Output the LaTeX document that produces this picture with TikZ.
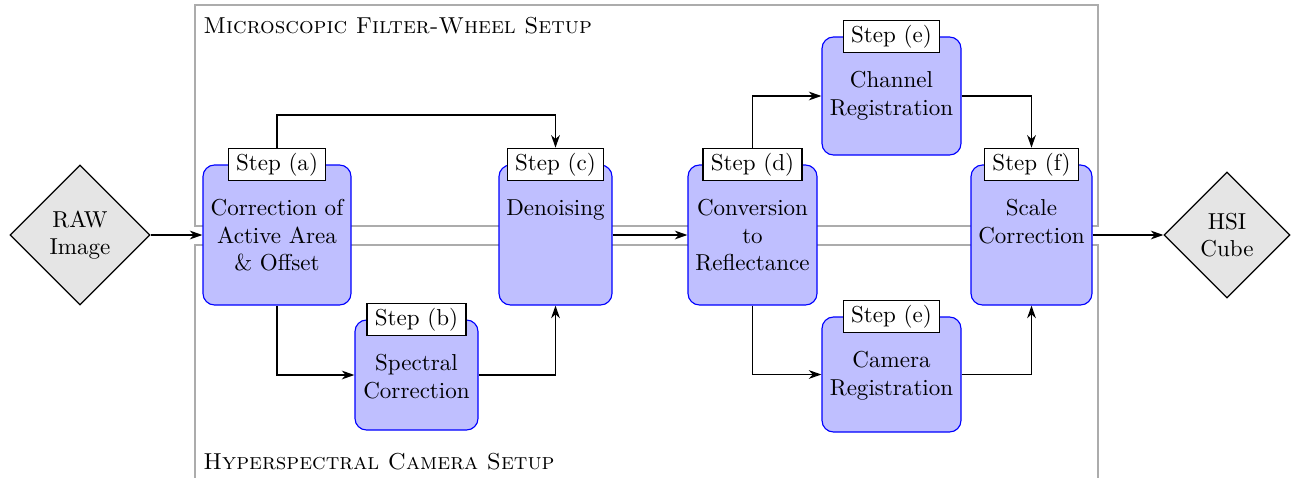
\documentclass[tikz,border=0pt]{standalone}
\usetikzlibrary{shapes.geometric,arrows.meta}
\begin{document}
\begin{tikzpicture}[x=0.434pt,y=-0.434pt,
  box/.style={draw=blue, fill=blue!25, rounded corners=5pt, inner sep=0pt, line width=0.5pt},
  dia/.style={diamond, draw=black, fill=gray!20, inner sep=0pt, align=center, aspect=1, line width=0.5pt},
  steplbl/.style={draw=black, fill=white, inner xsep=3.4pt, inner ysep=2pt, line width=0.5pt},
  txt/.style={anchor=north, align=center, inner sep=0pt},
  arr/.style={-{Stealth[length=5.5pt,width=3.8pt]}, line width=0.8pt},
  frame/.style={draw=gray!65, line width=0.5pt},
  head/.style={anchor=base west, inner sep=0pt}]
\useasboundingbox (0,0) rectangle (1291,478);
% frames
\draw[frame] (195,5) rectangle (1098,226);
\draw[frame] (195,490) -- (195,245) -- (1098,245) -- (1098,490);
\node[head] (t1) at (203,33) {\textsc{Microscopic Filter-Wheel Setup}};
\node[head] (t2) at (203,469) {\textsc{Hyperspectral Camera Setup}};
% diamonds
\node[dia, minimum size={140*0.434pt}] (raw) at (80,235) {RAW\\Image};
\node[dia, minimum size={126*0.434pt}] (hsi) at (1227,235) {HSI\\Cube};
% boxes
\node[box, minimum width={148*0.434pt}, minimum height={140*0.434pt}] (a) at (277,235) {};
\node[txt] (ta) at ([yshift=-15pt]a.north) {Correction of\\Active Area\\\& Offset};
\node[box, minimum width={123*0.434pt}, minimum height={110*0.434pt}] (b) at (416.5,375) {};
\node[txt] (tb) at ([yshift=-15pt]b.north) {Spectral\\Correction};
\node[box, minimum width={113*0.434pt}, minimum height={140*0.434pt}] (c) at (555.5,235) {};
\node[txt] (tc) at ([yshift=-15pt]c.north) {Denoising};
\node[box, minimum width={129*0.434pt}, minimum height={140*0.434pt}] (d) at (752.5,235) {};
\node[txt] (td) at ([yshift=-15pt]d.north) {Conversion\\to\\Reflectance};
\node[box, minimum width={139*0.434pt}, minimum height={118*0.434pt}] (e1) at (891.5,96) {};
\node[txt] (te1) at ([yshift=-15pt]e1.north) {Channel\\Registration};
\node[box, minimum width={139*0.434pt}, minimum height={115*0.434pt}] (e2) at (891.5,374.5) {};
\node[txt] (te2) at ([yshift=-15pt]e2.north) {Camera\\Registration};
\node[box, minimum width={121*0.434pt}, minimum height={140*0.434pt}] (f) at (1031.5,235) {};
\node[txt] (tf) at ([yshift=-15pt]f.north) {Scale\\Correction};
% step labels
\node[steplbl] (la) at (a.north) {Step (a)};
\node[steplbl] (lb) at (b.north) {Step (b)};
\node[steplbl] (lc) at (c.north) {Step (c)};
\node[steplbl] (ld) at (d.north) {Step (d)};
\node[steplbl] (le1) at (e1.north) {Step (e)};
\node[steplbl] (le2) at (e2.north) {Step (e)};
\node[steplbl] (lf) at (f.north) {Step (f)};
% connectors
\coordinate (topy) at (0,115);
\draw[arr] (raw.east) -- (a.west);
\draw[arr] (la.north) -- (la.north |- topy) -| (lc.north);
\draw[arr] (a.south) |- (b.west);
\draw[arr] (b.east) -| (c.south);
\draw[arr] (c.east) -- (d.west);
\draw[arr] (ld.north) |- (e1.west);
\draw[arr] (e1.east) -| (lf.north);
\draw[arr] (d.south) |- (e2.west);
\draw[arr] (e2.east) -| (f.south);
\draw[arr] (f.east) -- (hsi.west);
\end{tikzpicture}
\end{document}
